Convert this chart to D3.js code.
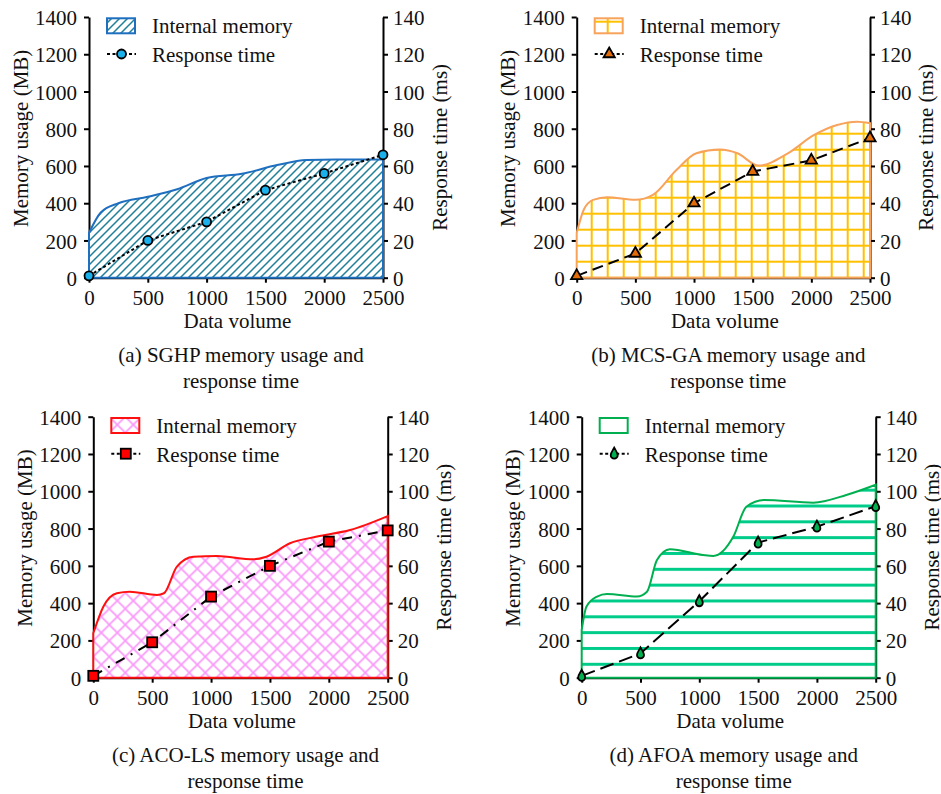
<!DOCTYPE html>
<html>
<head>
<meta charset="utf-8">
<script src="https://cdn.jsdelivr.net/npm/d3@7"></script>
<style>
  body { margin: 0; background: #fff; }
  svg text { font-family: "Liberation Serif", "Times New Roman", serif; font-size: 21px; fill: #111; }
</style>
</head>
<body>
<svg id="chart" width="941" height="794"></svg>
<script>
// ticks
const xTicks = [0, 500, 1000, 1500, 2000, 2500];
const memTicks = [0, 200, 400, 600, 800, 1000, 1200, 1400];
const timeTicks = [0, 20, 40, 60, 80, 100, 120, 140];
const timeX = [0, 500, 1000, 1500, 2000, 2500];

// (a) SGHP
const sghpMemX = [0, 100, 250, 500, 750, 1000, 1300, 1600, 1850, 2100, 2500];
const sghpMem = [240, 350, 400, 435, 475, 535, 558, 605, 632, 635, 635];
const sghpTime = [1, 20, 30, 47, 56, 66];

// (b) MCS-GA
const mcsMemX = [0, 60, 140, 260, 500, 650, 850, 1020, 1220, 1370, 1550, 1800, 2020, 2220, 2390, 2500];
const mcsMem = [240, 365, 418, 432, 418, 445, 578, 668, 688, 668, 602, 668, 765, 820, 838, 830];
const mcsTime = [1, 13, 40, 57, 63, 75];

// (c) ACO-LS
const acoMemX = [0, 85, 200, 310, 540, 600, 710, 850, 1050, 1360, 1470, 1670, 1900, 2180, 2500];
const acoMem = [238, 381, 453, 461, 444, 453, 596, 649, 653, 635, 649, 721, 757, 792, 867];
const acoTime = [1, 19, 43.5, 60, 73, 79];

// (d) AFOA
const afoaMemX = [0, 40, 130, 215, 470, 555, 640, 750, 1030, 1120, 1290, 1400, 1550, 1970, 2250, 2500];
const afoaMem = [256, 381, 435, 449, 435, 461, 631, 689, 658, 653, 757, 917, 953, 939, 980, 1035];
const afoaTime = [1, 13, 41, 72.5, 81, 92];

const svg = d3.select("#chart");
const defs = svg.append("defs");

// fill patterns
const hatch = defs.append("pattern").attr("id", "hatch")
    .attr("patternUnits", "userSpaceOnUse").attr("width", 8).attr("height", 8);
hatch.append("path").attr("d", "M-2,2 L2,-2 M0,8 L8,0 M6,10 L10,6")
    .attr("stroke", "#1e7f98").attr("stroke-width", 1.5);

const grid = defs.append("pattern").attr("id", "grid")
    .attr("patternUnits", "userSpaceOnUse").attr("width", 16).attr("height", 16)
    .attr("x", -2).attr("y", 259.7);
grid.append("rect").attr("x", 0).attr("y", 0).attr("width", 2).attr("height", 16).attr("fill", "#ffc000");
grid.append("rect").attr("x", 0).attr("y", 0).attr("width", 16).attr("height", 2).attr("fill", "#ffc000");

const lattice = defs.append("pattern").attr("id", "lattice")
    .attr("patternUnits", "userSpaceOnUse").attr("width", 16).attr("height", 16);
lattice.append("path").attr("d", "M0,0 L16,16 M16,0 L0,16")
    .attr("stroke", "#fa96fa").attr("stroke-width", 1.6);

const stripes = defs.append("pattern").attr("id", "stripes")
    .attr("patternUnits", "userSpaceOnUse").attr("width", 16).attr("height", 15.83)
    .attr("y", 246.1);
stripes.append("rect").attr("x", 0).attr("y", 0).attr("width", 16).attr("height", 3).attr("fill", "#00cc8a");

const panels = [
    { left: 89, right: 383, top: 17, bottom: 277.7, memX: sghpMemX, mem: sghpMem, time: sghpTime,
      stroke: "#1f6fc0", fill: "url(#hatch)", legendFill: "url(#hatch)", marker: "circle", markerFill: "#1ab0ec",
      dash: "3,2.5", caption: ["(a) SGHP memory usage and", "response time"] },
    { left: 576.7, right: 870, top: 17, bottom: 277.7, memX: mcsMemX, mem: mcsMem, time: mcsTime,
      stroke: "#f7a35c", fill: "url(#grid)", legendFill: "url(#grid)", marker: "triangle", markerFill: "#e36c0a",
      dash: "11,6", caption: ["(b) MCS-GA memory usage and", "response time"] },
    { left: 93.3, right: 387.7, top: 416.7, bottom: 677.7, memX: acoMemX, mem: acoMem, time: acoTime,
      stroke: "#ff1010", fill: "url(#lattice)", legendFill: "url(#lattice)", marker: "square", markerFill: "#ff0000",
      dash: "10,7,2,7", caption: ["(c) ACO-LS memory usage and", "response time"] },
    { left: 581.7, right: 875.7, top: 416.7, bottom: 677.7, memX: afoaMemX, mem: afoaMem, time: afoaTime,
      stroke: "#00b050", fill: "url(#stripes)", legendFill: "#fff", marker: "drop", markerFill: "#00b050",
      dash: "14,6", caption: ["(d) AFOA memory usage and", "response time"] }
];

function drawMarker(sel, type, fill) {
    if (type === "circle") {
        sel.append("circle").attr("r", 4.5);
    } else if (type === "triangle") {
        sel.append("path").attr("d", d3.symbol(d3.symbolTriangle, 55)());
    } else if (type === "square") {
        sel.append("rect").attr("x", -5).attr("y", -5).attr("width", 10).attr("height", 10);
    } else {
        sel.append("path").attr("d", "M0,-6 C1.5,-3 3.5,-1 3.5,1.5 A3.5,3.5 0 0 1 -3.5,1.5 C-3.5,-1 -1.5,-3 0,-6Z");
    }
    sel.selectAll("*").attr("fill", fill).attr("stroke", "#000").attr("stroke-width", 1.8);
}

panels.forEach(p => {
    const w = p.right - p.left, h = p.bottom - p.top;
    const g = svg.append("g").attr("transform", `translate(${p.left},${p.top})`);

    const x = d3.scaleLinear().domain([0, 2500]).range([0, w]);
    const yMem = d3.scaleLinear().domain([0, 1400]).range([h, 0]);
    const yTime = d3.scaleLinear().domain([0, 140]).range([h, 0]);

    // axes
    const xAxis = g.append("g").attr("transform", `translate(0,${h})`)
        .call(d3.axisBottom(x).tickValues(xTicks).tickSize(5).tickSizeOuter(0).tickFormat(d3.format("d")));
    xAxis.selectAll("text").attr("y", 27).attr("dy", 0);

    const yAxis = g.append("g")
        .call(d3.axisLeft(yMem).tickValues(memTicks).tickSize(5).tickPadding(7).tickSizeOuter(0).tickFormat(d3.format("d")));
    yAxis.selectAll("text").attr("dy", "0.36em");

    const y2Axis = g.append("g").attr("transform", `translate(${w},0)`)
        .call(d3.axisRight(yTime).tickValues(timeTicks).tickSize(5).tickPadding(5).tickSizeOuter(0));
    y2Axis.selectAll("text").attr("dy", "0.36em");

    g.selectAll(".domain, .tick line").attr("stroke", "#000").attr("stroke-width", 2);
    g.selectAll(".tick text").attr("fill", "#111");

    // memory area
    const memData = p.memX.map((d, i) => ({ x: d, v: p.mem[i] }));
    const area = d3.area()
        .x(d => x(d.x))
        .y0(yMem(0))
        .y1(d => yMem(d.v))
        .curve(d3.curveMonotoneX);
    g.append("path").datum(memData)
        .attr("d", area)
        .attr("fill", "#fff");
    g.append("path").datum(memData)
        .attr("d", area)
        .attr("fill", p.fill)
        .attr("stroke", p.stroke)
        .attr("stroke-width", 2);

    // response time line
    const timeData = timeX.map((d, i) => ({ x: d, v: p.time[i] }));
    g.append("path").datum(timeData)
        .attr("d", d3.line().x(d => x(d.x)).y(d => yTime(d.v)))
        .attr("fill", "none")
        .attr("stroke", "#000")
        .attr("stroke-width", 2)
        .attr("stroke-dasharray", p.dash);

    g.selectAll(".pt").data(timeData).join("g")
        .attr("class", "pt")
        .attr("transform", d => `translate(${x(d.x)},${yTime(d.v)})`)
        .each(function () { drawMarker(d3.select(this), p.marker, p.markerFill); });

    // axis titles
    g.append("text")
        .attr("transform", "rotate(-90)")
        .attr("x", -121.3).attr("y", -61.5)
        .attr("text-anchor", "middle")
        .text("Memory usage (MB)");
    g.append("text")
        .attr("transform", "rotate(-90)")
        .attr("x", -h / 2).attr("y", w + 63.5)
        .attr("text-anchor", "middle")
        .text("Response time (ms)");
    g.append("text")
        .attr("x", w / 2 + 1.5).attr("y", h + 50)
        .attr("text-anchor", "middle")
        .text("Data volume");
    p.caption.forEach((c, i) => {
        g.append("text")
            .attr("x", w / 2 + 5).attr("y", h + 84 + i * 26)
            .attr("text-anchor", "middle")
            .text(c);
    });

    // legend
    const lg = g.append("g");
    lg.append("rect")
        .attr("x", 18).attr("y", 1.3).attr("width", 28).attr("height", 15)
        .attr("fill", "#fff");
    lg.append("rect")
        .attr("x", 18).attr("y", 1.3).attr("width", 28).attr("height", 15)
        .attr("fill", p.legendFill).attr("stroke", p.stroke).attr("stroke-width", 2);
    lg.append("text").attr("x", 63).attr("y", 16).text("Internal memory");
    lg.append("line")
        .attr("x1", 18).attr("x2", 47).attr("y1", 37).attr("y2", 37)
        .attr("stroke", "#000").attr("stroke-width", 2)
        .attr("stroke-dasharray", "3,2.5");
    const lm = lg.append("g").attr("transform", "translate(32.5,37)");
    drawMarker(lm, p.marker, p.markerFill);
    lg.append("text").attr("x", 63).attr("y", 45).text("Response time");
});
</script>
</body>
</html>
